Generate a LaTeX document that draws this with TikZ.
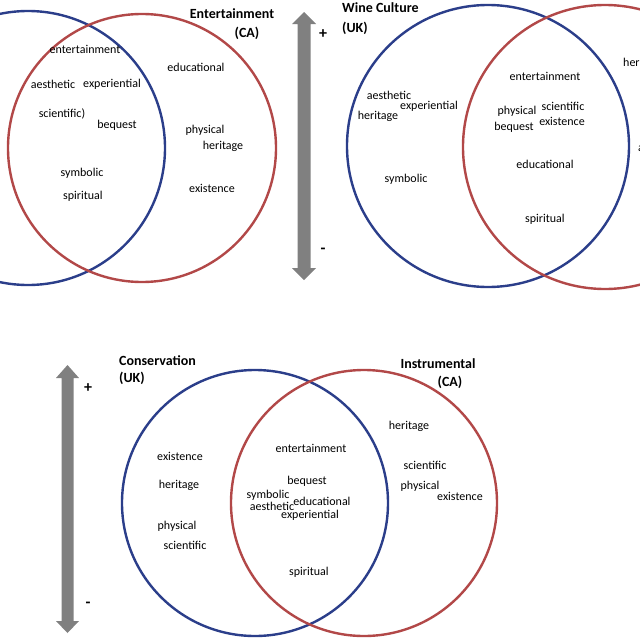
\documentclass[tikz,border=0pt]{standalone}
\usepackage{fontspec}
\setmainfont{Carlito}
\definecolor{vblue}{RGB}{43,62,138}
\definecolor{vred}{RGB}{178,72,72}
\definecolor{agray}{RGB}{128,128,128}
\begin{document}
\begin{tikzpicture}[x=1pt,y=-1pt,
  word/.style={inner sep=0pt,font=\fontsize{12}{14}\selectfont},
  head/.style={inner sep=0pt,font=\fontsize{14}{16}\selectfont\bfseries},
  sign/.style={inner sep=0pt,font=\fontsize{16}{18}\selectfont\bfseries},
  bluering/.style={draw=vblue,line width=2.4pt},
  redring/.style={draw=vred,line width=2.4pt}]
\useasboundingbox (0,0) rectangle (640,640);
\clip (0,0) rectangle (640,640);
\fill[white] (0,0) rectangle (640,640);
% ---------- top left ----------
\draw[bluering] (28,148) circle[radius=137pt];
\draw[redring] (142,148) circle[radius=134pt];
\node[head] (h1) at (232,14) {Entertainment};
\node[head] (h1b) at (247,33) {(CA)};
\node[word] (a1) at (85,49) {entertainment};
\node[word] (a2) at (53,84) {aesthetic};
\node[word] (a3) at (112,84) {experiential};
\node[word] (a4) at (62,114) {scientific)};
\node[word] (a5) at (117,125) {bequest};
\node[word] (a6) at (82,173) {symbolic};
\node[word] (a7) at (83,196) {spiritual};
\node[word] (a8) at (196,67) {educational};
\node[word] (a9) at (205,130) {physical};
\node[word] (a10) at (223,146) {heritage};
\node[word] (a11) at (212,188) {existence};
% ---------- arrow top ----------
\fill[agray] (304,12) -- (316,24) -- (310.5,24) -- (310.5,268) -- (316,268) -- (304,280)
  -- (292,268) -- (297.5,268) -- (297.5,24) -- (292,24) -- cycle;
\node[sign] (p1) at (323,34) {+};
\node[sign] (m1) at (323,251) {-};
% ---------- top right ----------
\draw[bluering] (488,146) circle[radius=141pt];
\draw[redring] (605,147) circle[radius=142pt];
\node[head,anchor=west] (h2) at (342,8) {Wine Culture};
\node[head,anchor=west] (h2b) at (342,28) {(UK)};
\node[word] (b1) at (389,95) {aesthetic};
\node[word] (b2) at (429,106) {experiential};
\node[word] (b3) at (378,116) {heritage};
\node[word] (b4) at (406,179) {symbolic};
\node[word] (b5) at (545,76) {entertainment};
\node[word] (b6) at (517,111) {physical};
\node[word] (b7) at (563,106) {scientific};
\node[word] (b8) at (514,127) {bequest};
\node[word] (b9) at (562,121) {existence};
\node[word] (b10) at (545,164) {educational};
\node[word] (b11) at (545,219) {spiritual};
\node[word,anchor=west] (b12) at (623,63) {heritage};
\node[word,anchor=west] (b13) at (638,147) {aesthetic};
% ---------- bottom ----------
\draw[bluering] (255,503) circle[radius=133pt];
\draw[redring] (364,503) circle[radius=133pt];
\node[head,anchor=west] (h3) at (119,361) {Conservation};
\node[head,anchor=west] (h3b) at (119,378) {(UK)};
\node[head] (h4) at (438,364) {Instrumental};
\node[head] (h4b) at (450,382) {(CA)};
\node[word] (c1) at (180,456) {existence};
\node[word] (c2) at (179,485) {heritage};
\node[word] (c3) at (177,526) {physical};
\node[word] (c4) at (185,545) {scientific};
\node[word] (c5) at (311,448) {entertainment};
\node[word] (c6) at (307,481) {bequest};
\node[word] (c7) at (268,495) {symbolic};
\node[word] (c8) at (272,506) {aesthetic};
\node[word] (c9) at (322,501) {educational};
\node[word] (c10) at (310,515) {experiential};
\node[word] (c11) at (309,572) {spiritual};
\node[word] (c12) at (409,426) {heritage};
\node[word] (c13) at (425,465) {scientific};
\node[word] (c14) at (420,486) {physical};
\node[word] (c15) at (460,496) {existence};
% ---------- arrow bottom ----------
\fill[agray] (67.5,365) -- (79,378) -- (73.5,378) -- (73.5,621) -- (79,621) -- (67.5,633)
  -- (56,621) -- (61.5,621) -- (61.5,378) -- (56,378) -- cycle;
\node[sign] (p2) at (88,388) {+};
\node[sign] (m2) at (88,605) {-};
\end{tikzpicture}
\end{document}
